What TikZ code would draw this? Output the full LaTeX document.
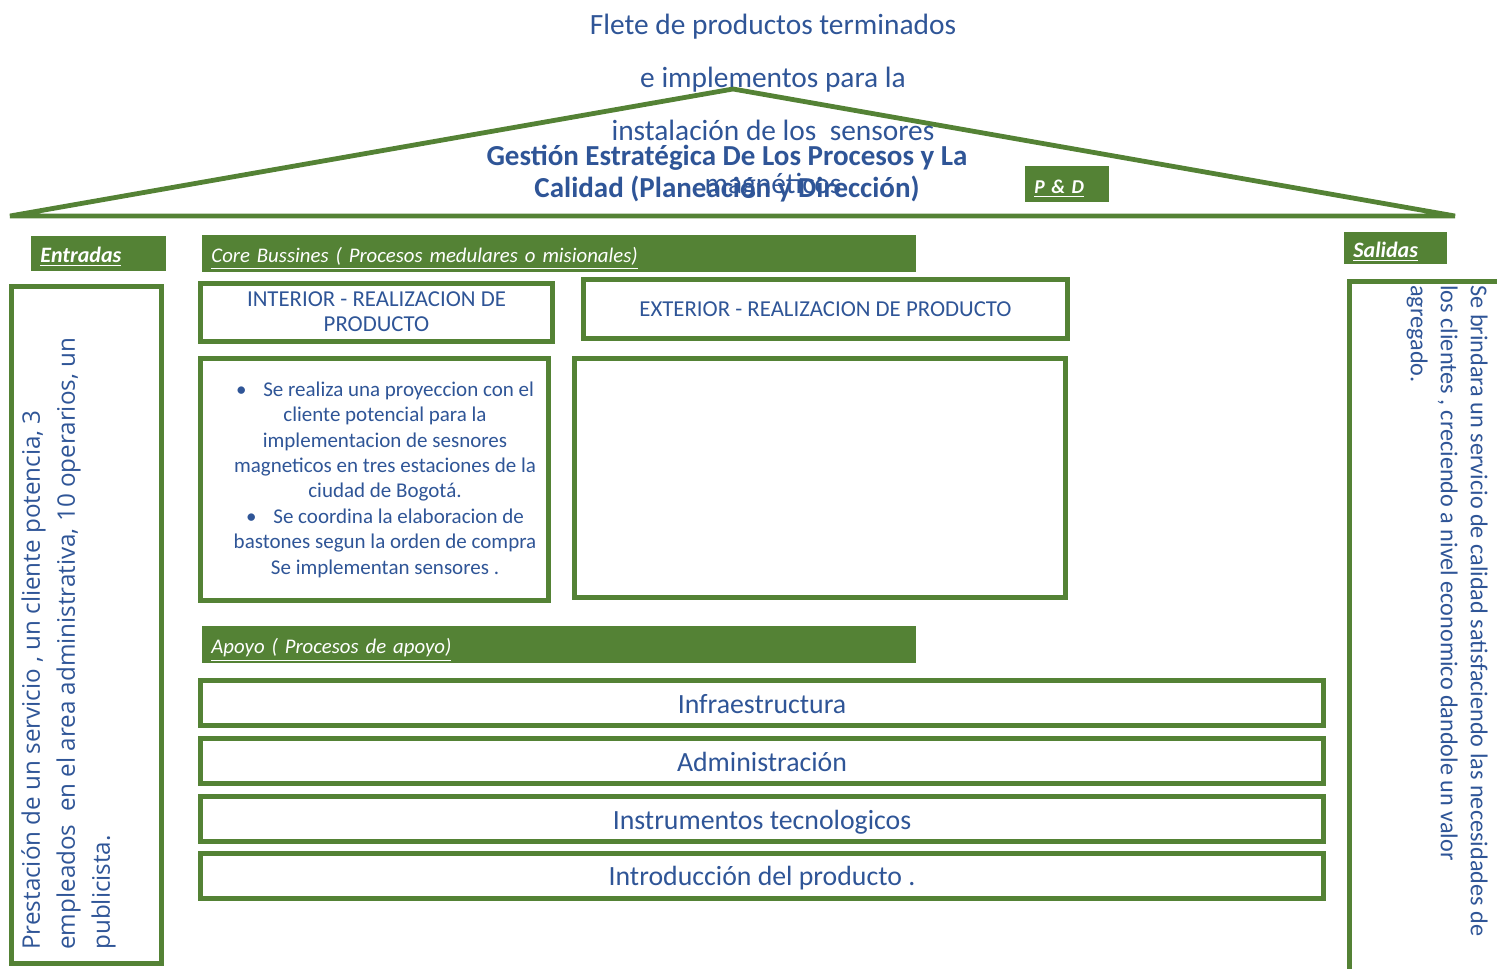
\documentclass[tikz,border=0pt]{standalone}
\usepackage{fontspec}
\setmainfont{Carlito}
\newfontfamily\entfont{Open Sans}
\usetikzlibrary{positioning}
\definecolor{ogreen}{RGB}{84,130,53}
\definecolor{oblue}{RGB}{47,85,151}
\tikzstyle{greenbox} = [rectangle, draw=ogreen, line width=2.5pt, fill=white, inner sep=0pt, text=oblue]
\tikzstyle{hdr} = [rectangle, fill=ogreen, text=white, anchor=north west, align=left, inner xsep=4.5pt, inner ysep=0pt, text height=9pt, text depth=0pt, font=\fontsize{10.4}{12}\selectfont\itshape]
\tikzstyle{apoyo} = [greenbox, minimum width=561.5pt, minimum height=22.5pt, text height=10.4pt, text depth=0pt, font=\fontsize{13.9}{16}\selectfont]
\tikzstyle{vtext} = [anchor=north west, align=left, inner sep=0pt, text=oblue]

\begin{document}
\begin{tikzpicture}[x=0.5pt, y=-0.5pt]
\useasboundingbox (0,0) rectangle (1497,968);
\clip (0,0) rectangle (1497,968);

% roof
\draw[draw=ogreen, line width=2.4pt] (10,216) -- (733,89) -- (1455,216) -- cycle;
\node (flete) [align=center, text=oblue, font=\fontsize{14.7}{26.5}\selectfont] at (773,106.5) {Flete de productos terminados\\e implementos para la\\instalación de los\ \ sensores\\magnéticos};
\node (gestion) [align=center, text=oblue, font=\fontsize{14.5}{16}\selectfont\bfseries] at (727,173.5) {Gestión Estratégica De Los Procesos y La\\Calidad (Planeación y Dirección)};
\node (pd) [hdr, text width=33pt, minimum height=18pt, font=\fontsize{9.8}{12}\selectfont\bfseries\itshape] at (1025,166) {\underline{P \& D}};

% headers
\node (entlbl) [hdr, text width=58.5pt, minimum height=17.5pt, font=\fontsize{11}{12}\selectfont\bfseries\itshape] at (31,236) {\underline{Entradas}};
\node (corelbl) [hdr, text width=348pt, minimum height=18.5pt] at (202,235) {\underline{Core Bussines ( Procesos medulares o misionales)}};
\node (sallbl) [hdr, text width=42.5pt, minimum height=16pt, font=\fontsize{11}{12}\selectfont\bfseries\itshape] at (1344,232) {\underline{Salidas}};
\node (apoyolbl) [hdr, text width=348pt, minimum height=18.5pt] at (202,626) {\underline{Apoyo ( Procesos de apoyo)}};

% entradas / salidas
\node (entbox) [greenbox, minimum width=75pt, minimum height=338.5pt] at (86.5,625) {};
\node (entdesc) [vtext, rotate=90, font=\entfont\fontsize{12.1}{17.5}\selectfont] at (21,950) {Prestación de un servicio , un cliente potencia, 3\\empleados\ \ en el area administrativa, 10 operarios, un\\publicista.};
\node (salbox) [greenbox, anchor=north west, minimum width=100pt, minimum height=360pt] at (1347,279) {};
\node (saldesc) [vtext, rotate=-90, font=\fontsize{12.1}{15}\selectfont] at (1488,285) {Se brindara un servicio de calidad satisfaciendo las necesidades de\\los clientes , creciendo a nivel economico dandole un valor\\agregado.};

% core bussines
\node (intitle) [greenbox, minimum width=176pt, minimum height=29pt, align=center, font=\fontsize{11.4}{12.5}\selectfont] at (376.5,312) {INTERIOR - REALIZACION DE\\PRODUCTO};
\node (extitle) [greenbox, minimum width=242pt, minimum height=29.5pt, font=\fontsize{11.4}{12.5}\selectfont] at (825.5,309) {EXTERIOR - REALIZACION DE PRODUCTO};
\node (intbody) [greenbox, minimum width=174pt, minimum height=121pt] at (374.5,479.5) {};
\node (intbodytext) [align=center, inner sep=0pt, text=oblue, font=\fontsize{10.5}{12.7}\selectfont] at (385,479.5) {\textbullet\hspace{0.8em}Se realiza una proyeccion con el\\cliente potencial para la\\implementacion de sesnores\\magneticos en tres estaciones de la\\ciudad de Bogotá.\\\textbullet\hspace{0.8em}Se coordina la elaboracion de\\bastones segun la orden de compra\\Se implementan sensores .};
\node (extbody) [greenbox, minimum width=245.5pt, minimum height=119.5pt] at (820,478) {};

% apoyo
\node (infra) [apoyo] at (762,703) {Infraestructura};
\node (admin) [apoyo, below=4pt of infra] {Administración};
\node (instr) [apoyo, below=4pt of admin] {Instrumentos tecnologicos};
\node (intro) [apoyo, below=3.25pt of instr] {Introducción del producto .};
\end{tikzpicture}
\end{document}
